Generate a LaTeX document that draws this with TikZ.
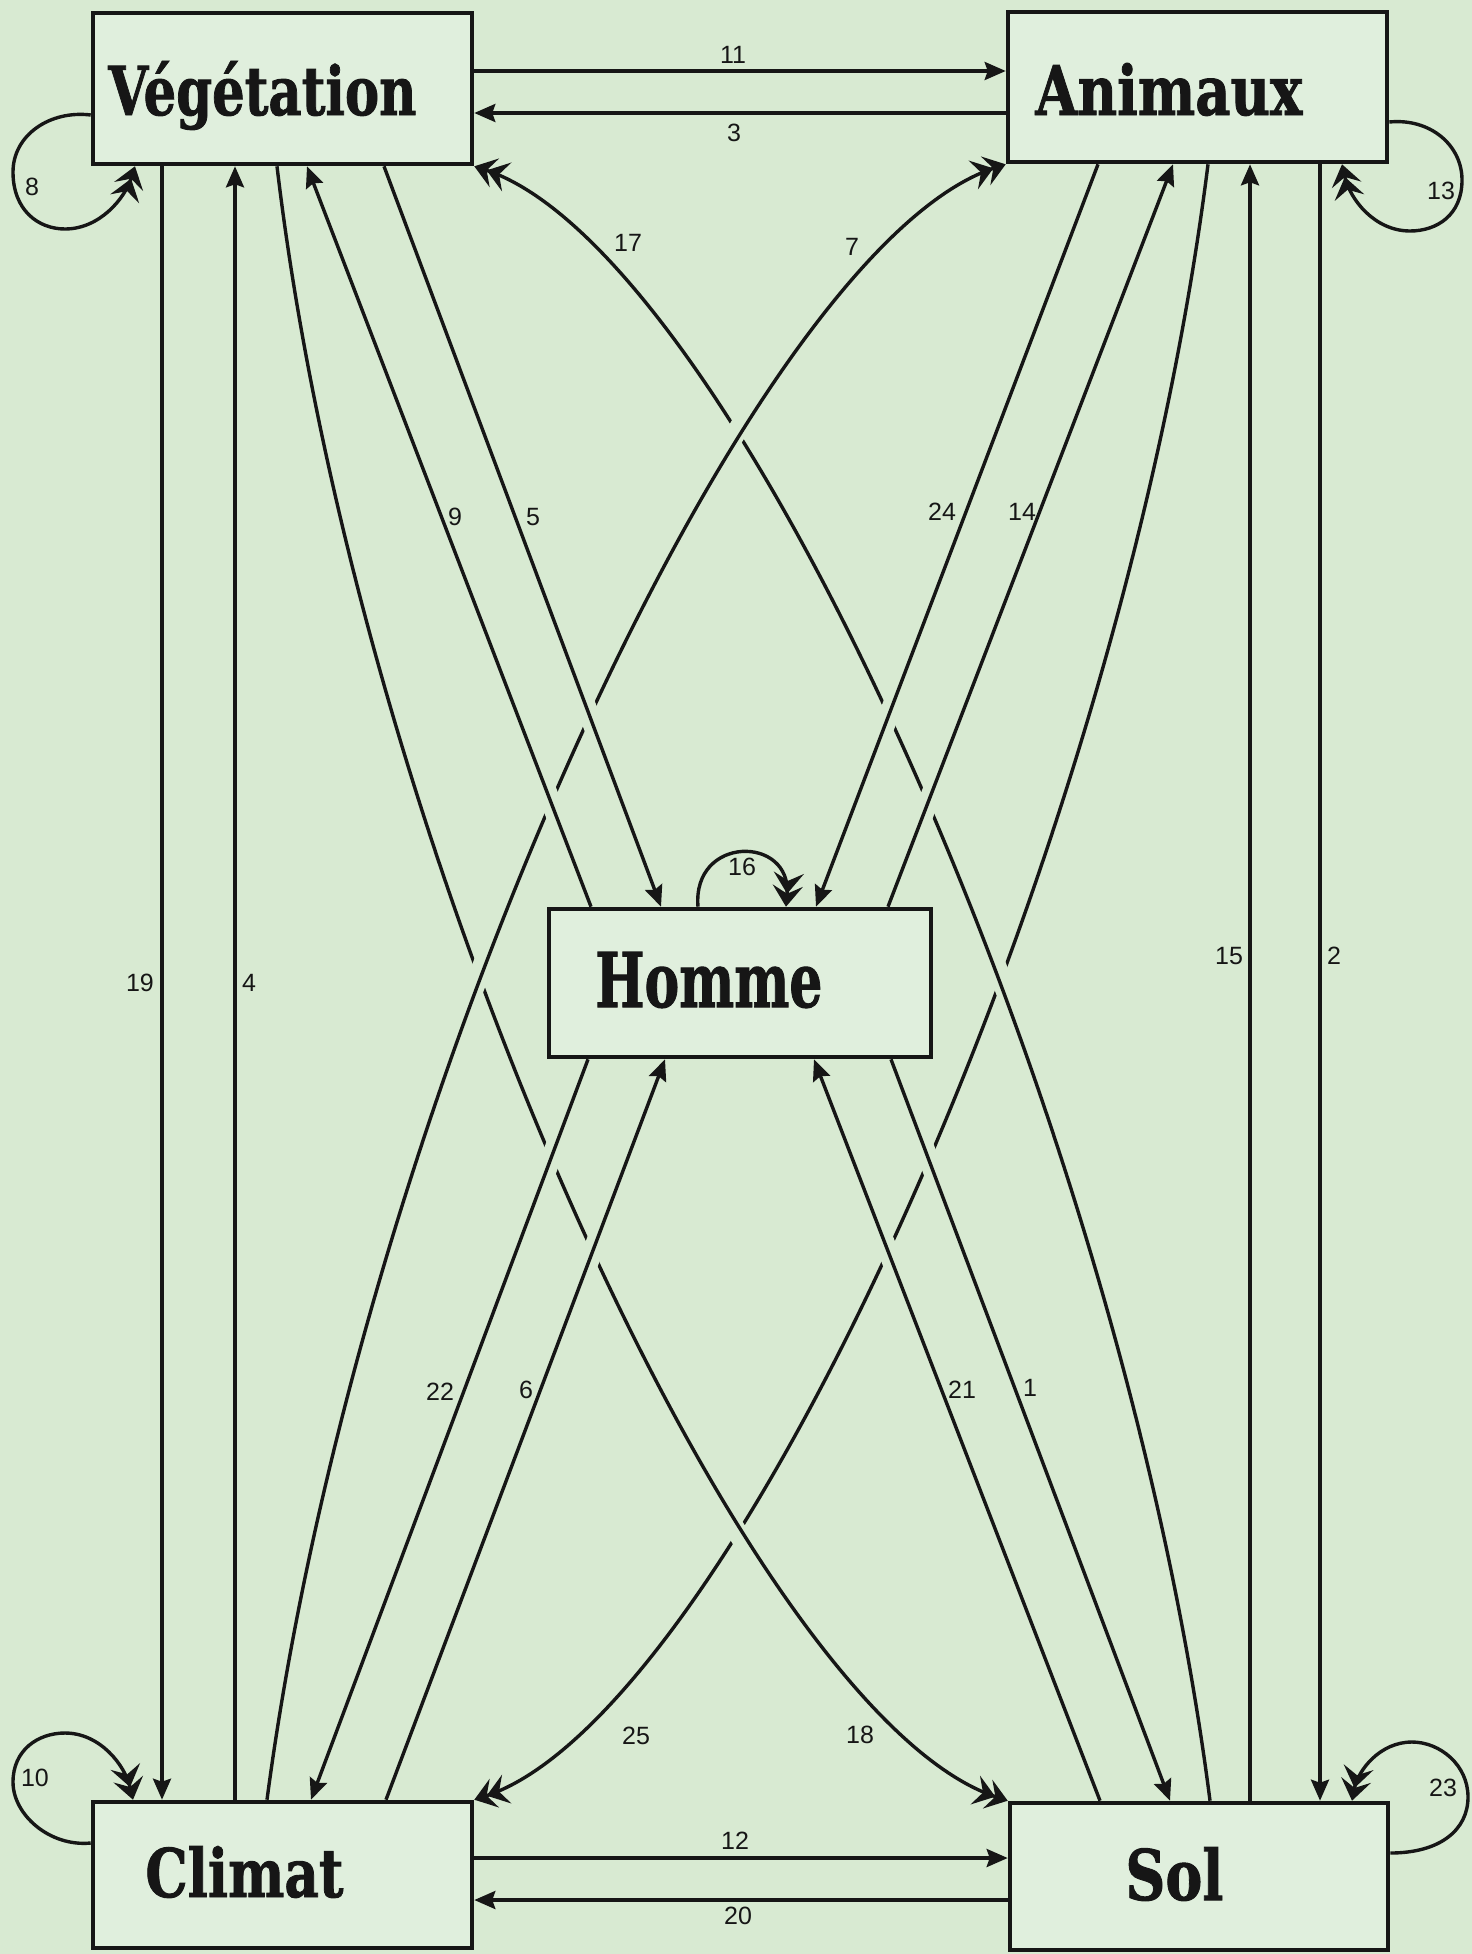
\documentclass[tikz,border=0pt]{standalone}
\usepackage{fontspec}
\setmainfont{Liberation Sans}
\newfontfamily\boxfont{DejaVu Serif}[BoldFeatures={FakeBold=1.4}]
\usetikzlibrary{arrows.meta,calc}
\definecolor{bg}{RGB}{216,234,210}
\definecolor{boxbg}{RGB}{224,239,221}
\definecolor{ink}{RGB}{22,22,22}
\tikzset{
  box/.style={draw=ink, line width=2.3pt, fill=boxbg, rectangle, inner sep=0pt},
  lbl/.style={font=\fontsize{12.5}{14}\selectfont, text=ink, inner sep=0pt},
  conn/.style={draw=ink, line width=1.7pt},
  arr/.style={conn, -{Stealth[length=10.5pt,width=9pt,inset=1.5pt]}},
  darr/.style={conn, -{Stealth[length=10.5pt,width=15pt,inset=4pt,sep=-4pt]Stealth[length=10.5pt,width=15pt,inset=4pt]}},
  halo/.style={preaction={draw=bg, line width=10pt, -, shorten <=15pt, shorten >=15pt}},
  title/.style={inner sep=0pt, anchor=base west, text=ink}
}
\begin{document}
\begin{tikzpicture}[x=0.5pt,y=-0.5pt]
\useasboundingbox (0,0) rectangle (1472,1954);
\fill[bg] (0,0) rectangle (1472,1954);

% boxes
\node[box, minimum width=189.5pt, minimum height=75.5pt] (veg) at (282.5,88.5) {};
\node[box, minimum width=189.5pt, minimum height=75pt] (ani) at (1197.5,87) {};
\node[box, minimum width=191pt, minimum height=74pt] (hom) at (740,983) {};
\node[box, minimum width=189.5pt, minimum height=73pt] (cli) at (282.5,1875) {};
\node[box, minimum width=189pt, minimum height=73.5pt] (sol) at (1199,1876.5) {};

% titles
\node[title] (vegT) at (108,115) {\resizebox{154pt}{27pt}{\boxfont\bfseries Végétation}};
\node[title] (aniT) at (1035,115) {\resizebox{133.5pt}{26pt}{\boxfont\bfseries Animaux}};
\node[title] (homT) at (595,1007) {\resizebox{113.5pt}{27.5pt}{\boxfont\bfseries Homme}};
\node[title] (cliT) at (145,1897) {\resizebox{99pt}{25.5pt}{\boxfont\bfseries Climat}};
\node[title] (solT) at (1125,1900) {\resizebox{49pt}{26.5pt}{\boxfont\bfseries Sol}};

% long curves (broken ones first)
\draw[darr] (1208,0 |- ani.south) .. controls (1120,866) and (730,1716) .. (cli.north east);
\draw[darr,halo] (1210,0 |- sol.north) .. controls (1120,1100) and (730,250) .. (veg.south east);
\draw[darr,halo] (277,0 |- veg.south) .. controls (360,866) and (750,1716) .. (sol.north west);
\draw[darr,halo] (267,0 |- cli.north) .. controls (360,1098) and (750,248) .. (ani.south west);

% straight diagonals
\draw[arr,halo] (591,0 |- hom.north) -- (307,0 |- veg.south);
\draw[arr,halo] (384,0 |- veg.south) -- (661,0 |- hom.north);
\draw[arr,halo] (1098,0 |- ani.south) -- (816,0 |- hom.north);
\draw[arr,halo] (888,0 |- hom.north) -- (1173,0 |- ani.south);
\draw[arr,halo] (588,0 |- hom.south) -- (311,0 |- cli.north);
\draw[arr,halo] (386,0 |- cli.north) -- (665,0 |- hom.south);
\draw[arr,halo] (1100,0 |- sol.north) -- (814,0 |- hom.south);
\draw[arr,halo] (891,0 |- hom.south) -- (1170,0 |- sol.north);

% horizontals
\draw[arr] (veg.east |- 0,71) -- (ani.west |- 0,71);
\draw[arr] (ani.west |- 0,113) -- (veg.east |- 0,113);
\draw[arr] (cli.east |- 0,1858) -- (sol.west |- 0,1858);
\draw[arr] (sol.west |- 0,1900) -- (cli.east |- 0,1900);

% verticals
\draw[arr] (162,0 |- veg.south) -- (162,0 |- cli.north);
\draw[arr] (235,0 |- cli.north) -- (235,0 |- veg.south);
\draw[arr] (1250,0 |- sol.north) -- (1250,0 |- ani.south);
\draw[arr] (1320,0 |- ani.south) -- (1320,0 |- sol.north);

% loops
\draw[darr] (veg.west |- 0,115) .. controls (50,110) and (13,135) .. (13,172)
  .. controls (13,210) and (38,229) .. (65,229)
  .. controls (100,229) and (125,198) .. (135,0 |- veg.south);
\draw[darr] (ani.east |- 0,122) .. controls (1430,118) and (1462,145) .. (1462,180)
  .. controls (1462,215) and (1437,231) .. (1410,231)
  .. controls (1375,231) and (1350,200) .. (1342,0 |- ani.south);
\draw[darr] (cli.west |- 0,1843) .. controls (50,1847) and (13,1815) .. (13,1782)
  .. controls (13,1750) and (38,1733) .. (65,1733)
  .. controls (100,1733) and (125,1765) .. (133,0 |- cli.north);
\draw[darr] (sol.east |- 0,1853) .. controls (1440,1853) and (1468,1830) .. (1468,1797)
  .. controls (1468,1765) and (1440,1742) .. (1412,1742)
  .. controls (1380,1742) and (1358,1770) .. (1352,0 |- sol.north);
\draw[darr] (698,0 |- hom.north) .. controls (692,835) and (792,835) .. (786,0 |- hom.north);

% labels
\node[lbl] (l11) at (733,55) {11};
\node[lbl] (l3) at (734,133) {3};
\node[lbl] (l12) at (735,1841) {12};
\node[lbl] (l20) at (738,1916) {20};
\node[lbl] (l19) at (140,983) {19};
\node[lbl] (l4) at (249,983) {4};
\node[lbl] (l15) at (1229,956) {15};
\node[lbl] (l2) at (1334,956) {2};
\node[lbl] (l8) at (32,187) {8};
\node[lbl] (l13) at (1441,191) {13};
\node[lbl] (l10) at (35,1778) {10};
\node[lbl] (l23) at (1443,1788) {23};
\node[lbl] (l16) at (742,867) {16};
\node[lbl] (l17) at (628,243) {17};
\node[lbl] (l7) at (852,247) {7};
\node[lbl] (l9) at (455,517) {9};
\node[lbl] (l5) at (533,517) {5};
\node[lbl] (l24) at (942,512) {24};
\node[lbl] (l14) at (1022,512) {14};
\node[lbl] (l22) at (440,1392) {22};
\node[lbl] (l6) at (526,1390) {6};
\node[lbl] (l21) at (962,1390) {21};
\node[lbl] (l1) at (1030,1388) {1};
\node[lbl] (l25) at (636,1736) {25};
\node[lbl] (l18) at (860,1735) {18};
\end{tikzpicture}
\end{document}
